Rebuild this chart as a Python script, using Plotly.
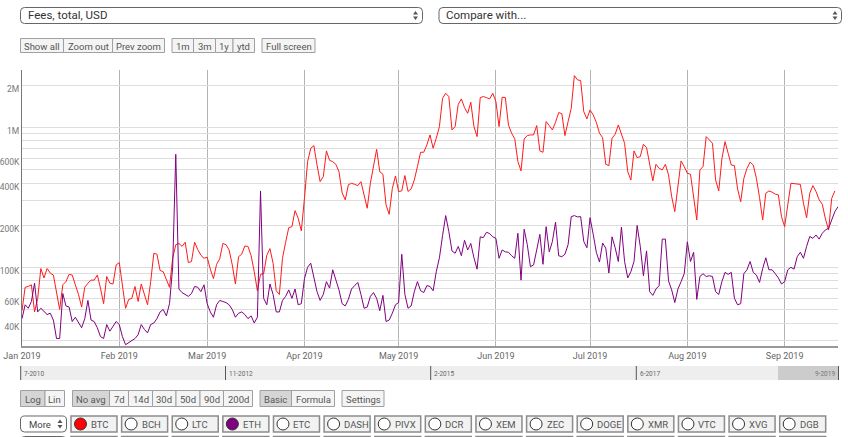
import plotly.graph_objects as go
import pandas as pd

# ---------------- data ----------------
start_date = "2019-01-01"
# daily total fees, thousands of USD
btc_fees_k = [
    49, 72, 73, 75, 48, 60, 98, 84, 98, 91, 88, 67, 50, 75, 79, 89, 88, 75, 64, 52,
    72, 77, 81, 81, 88, 71, 55, 86, 77, 76, 104, 108, 73, 51, 59, 60, 73, 57, 76, 64,
    54, 79, 126, 124, 95, 93, 81, 72, 116, 145, 148, 141, 151, 108, 110, 151, 134, 122, 116, 118,
    97, 83, 105, 115, 148, 145, 133, 104, 76, 119, 124, 142, 141, 121, 93, 68, 89, 90, 122, 136,
    107, 68, 64, 116, 151, 192, 195, 254, 224, 182, 311, 568, 708, 740, 538, 409, 444, 678, 581, 568,
    544, 482, 341, 303, 389, 398, 391, 383, 409, 320, 264, 398, 538, 696, 482, 462, 279, 239, 366, 449,
    348, 351, 452, 348, 363, 420, 524, 663, 663, 748, 882, 708, 835, 1011, 1611, 1749, 1657, 957, 1011, 1460,
    1594, 1382, 1259, 1508, 1011, 858, 1629, 1657, 1629, 1594, 1749, 1524, 1011, 1640, 1629, 1039, 906, 830, 569, 488,
    825, 872, 882, 882, 1028, 678, 663, 1098, 1028, 957, 1085, 1273, 1252, 872, 1098, 1367, 2338, 2180, 2156, 1294,
    1147, 1330, 1225, 1085, 906, 844, 544, 532, 835, 892, 1039, 906, 769, 482, 420, 678, 607, 617, 756, 716,
    532, 414, 544, 509, 496, 544, 457, 320, 250, 389, 575, 524, 469, 462, 311, 218, 496, 524, 858, 812,
    769, 421, 351, 594, 790, 652, 538, 532, 363, 294, 432, 509, 563, 538, 432, 315, 218, 338, 351, 344,
    333, 329, 230, 195, 282, 398, 396, 391, 391, 287, 226, 338, 383, 348, 303, 282, 221, 185, 311, 351,
]
eth_fees_k = [
    43, 54, 51, 57, 77, 48, 51, 48, 46, 47, 42, 31, 31, 65, 53, 52, 41, 44, 40, 37,
    43, 58, 42, 41, 37, 32, 31, 39, 35, 38, 41, 39, 32, 28, 29, 30, 31, 33, 39, 36,
    34, 39, 40, 43, 48, 50, 45, 55, 100, 641, 70, 66, 64, 62, 65, 73, 72, 67, 75, 55,
    48, 44, 54, 58, 57, 56, 54, 50, 44, 47, 48, 46, 43, 45, 40, 44, 351, 60, 54, 76,
    64, 48, 48, 58, 62, 69, 60, 70, 54, 55, 83, 100, 107, 83, 67, 58, 64, 79, 71, 96,
    81, 69, 55, 53, 59, 70, 74, 78, 64, 51, 52, 62, 66, 60, 49, 63, 41, 42, 47, 54,
    56, 124, 64, 51, 53, 67, 79, 68, 66, 74, 73, 68, 93, 117, 168, 234, 180, 131, 126, 141,
    121, 156, 133, 148, 117, 97, 165, 163, 178, 174, 165, 161, 116, 133, 129, 128, 121, 116, 175, 81,
    187, 145, 101, 104, 133, 172, 105, 195, 129, 153, 210, 121, 119, 124, 145, 230, 234, 229, 230, 153,
    138, 226, 172, 128, 109, 149, 137, 91, 165, 138, 110, 194, 110, 84, 93, 110, 199, 141, 87, 131,
    67, 63, 70, 74, 159, 159, 80, 69, 56, 70, 79, 90, 152, 110, 128, 59, 86, 90, 86, 87,
    86, 67, 64, 79, 92, 89, 92, 60, 54, 55, 90, 96, 110, 92, 88, 78, 98, 117, 96, 96,
    90, 84, 76, 79, 96, 100, 97, 119, 128, 116, 141, 166, 161, 170, 159, 175, 185, 190, 218, 250,
    271,
]
month_ticks = ["2019-01-01", "2019-02-01", "2019-03-01", "2019-04-01", "2019-05-01",
               "2019-06-01", "2019-07-01", "2019-08-01", "2019-09-01"]
month_labels = ["Jan 2019", "Feb 2019", "Mar 2019", "Apr 2019", "May 2019",
                "Jun 2019", "Jul 2019", "Aug 2019", "Sep 2019"]
ytick_vals = [30e3, 40e3, 50e3, 60e3, 70e3, 80e3, 90e3,
              100e3, 200e3, 300e3, 400e3, 500e3, 600e3, 700e3, 800e3, 900e3,
              1e6, 2e6]
ytick_text = ["", "40K", "", "60K", "", "", "",
              "100K", "200K", "", "400K", "", "600K", "", "", "",
              "1M", "2M"]
nav_labels = ["7-2010", "11-2012", "2-2015", "6-2017", "9-2019"]
coins = ["BTC", "BCH", "LTC", "ETH", "ETC", "DASH", "PIVX", "DCR",
         "XEM", "ZEC", "DOGE", "XMR", "VTC", "XVG", "DGB"]
coin_colors = {"BTC": "#ff0000", "ETH": "#800080"}

# ---------------- geometry helpers ----------------
FONT = "Roboto, sans-serif"
W, H = 848, 437
L, R, T, B = 22, 838, 70, 346


def px(x):
    return (x - L) / (R - L)


def py(y):
    return (B - y) / (B - T)


shapes, annotations = [], []


def rect(x0, y0, x1, y1, fill, line="#a0a0a0", lw=1):
    shapes.append(dict(type="rect", xref="paper", yref="paper", layer="above",
                       x0=px(x0), x1=px(x1), y0=py(y1), y1=py(y0),
                       fillcolor=fill, line=dict(color=line, width=lw)))


def vline(x, y0, y1, color="#555", lw=1):
    shapes.append(dict(type="line", xref="paper", yref="paper", layer="above",
                       x0=px(x), x1=px(x), y0=py(y1), y1=py(y0),
                       line=dict(color=color, width=lw)))


def text(x, y, s, size=9.5, color="#555", anchor="center"):
    annotations.append(dict(xref="paper", yref="paper", x=px(x), y=py(y), text=s,
                            showarrow=False, xanchor=anchor, yanchor="middle",
                            font=dict(family=FONT, size=size, color=color)))


def P(x, y):
    return f"{px(x):.5f},{py(y):.5f}"


def rounded(x0, y0, x1, y1, r=4, fill="white", line="#666", lw=1):
    path = (f"M {P(x0 + r, y0)} L {P(x1 - r, y0)} Q {P(x1, y0)} {P(x1, y0 + r)} "
            f"L {P(x1, y1 - r)} Q {P(x1, y1)} {P(x1 - r, y1)} L {P(x0 + r, y1)} "
            f"Q {P(x0, y1)} {P(x0, y1 - r)} L {P(x0, y0 + r)} Q {P(x0, y0)} {P(x0 + r, y0)} Z")
    shapes.append(dict(type="path", xref="paper", yref="paper", layer="above", path=path,
                       fillcolor=fill, line=dict(color=line, width=lw)))


def updown(cx, cy):
    for pts in ([(cx - 2.5, cy - 1), (cx + 2.5, cy - 1), (cx, cy - 4.5)],
                [(cx - 2.5, cy + 1), (cx + 2.5, cy + 1), (cx, cy + 4.5)]):
        path = "M " + " L ".join(P(a, b) for a, b in pts) + " Z"
        shapes.append(dict(type="path", xref="paper", yref="paper", layer="above",
                           path=path, fillcolor="#555", line=dict(width=0)))


def circle(cx, cy, r, fill):
    shapes.append(dict(type="circle", xref="paper", yref="paper", layer="above",
                       x0=px(cx - r), x1=px(cx + r), y0=py(cy + r), y1=py(cy - r),
                       fillcolor=fill, line=dict(color="#333", width=1)))


# ---------------- top selects ----------------
rounded(20.5, 7.5, 422.5, 23.5)
text(26, 15.5, "Fees, total, USD", size=11.5, color="#333", anchor="left")
updown(415.5, 15.5)
rounded(439, 7.5, 841.5, 23.5)
text(444, 15.5, "Compare with...", size=11.5, color="#333", anchor="left")
updown(835, 15.5)

# ---------------- button rows ----------------
BTN_FILL, BTN_ON = "#f4f4f4", "#d5d5d5"


def buttons(items, y0, y1):
    for label, x0, x1, on in items:
        rect(x0, y0, x1, y1, BTN_ON if on else BTN_FILL)
        text((x0 + x1) / 2, (y0 + y1) / 2 + 0.5, label, size=9.5, color="#555")


buttons([("Show all", 20.5, 63.5, False), ("Zoom out", 63.5, 112.5, False),
         ("Prev zoom", 112.5, 164.5, False)], 38.5, 52.5)
buttons([("1m", 172, 193.5, False), ("3m", 193.5, 215.5, False),
         ("1y", 215.5, 233, False), ("ytd", 233, 254.5, False)], 38.5, 52.5)
buttons([("Full screen", 262, 315, False)], 38.5, 52.5)

buttons([("Log", 20.5, 45, True), ("Lin", 45, 64.5, False)], 390.5, 406.5)
buttons([("No avg", 72.5, 109.5, True), ("7d", 109.5, 128.5, False),
         ("14d", 128.5, 152.5, False), ("30d", 152.5, 176, False),
         ("50d", 176, 200, False), ("90d", 200, 223.5, False),
         ("200d", 223.5, 252.5, False)], 390.5, 406.5)
buttons([("Basic", 260, 291.5, True), ("Formula", 291.5, 334.5, False)], 390.5, 406.5)
buttons([("Settings", 342, 384, False)], 390.5, 406.5)

# More select + coin buttons
rounded(20.5, 416, 66.5, 432)
text(27, 424, "More", size=9.5, color="#444", anchor="left")
updown(60, 424)
rounded(20.5, 436.5, 66.5, 452)
for i, c in enumerate(coins):
    x0 = 71 + i * 50.62
    rect(x0, 416, x0 + 46, 432, "#f2f2f2", line="#8c8c8c", lw=1.5)
    rect(x0, 436.5, x0 + 46, 452, "#f2f2f2", line="#8c8c8c", lw=1.5)
    circle(x0 + 9.5, 424, 6, coin_colors.get(c, "white"))
    text(x0 + 18, 424, c, size=9.5, color="#555", anchor="left")

# ---------------- navigator strip ----------------
rect(20.5, 366, 838, 380, "#eeeeee", line="#eeeeee", lw=0)
rect(778, 366, 838, 380, "#cccccc", line="#cccccc", lw=0)
nav_x = [20.7, 225.5, 430.7, 636.3]
for x, lab in zip(nav_x, nav_labels[:-1]):
    vline(x, 366, 380, color="#555", lw=1)
    text(x + 1.5, 373.5, lab, size=6.5, color="#666", anchor="left")
vline(838.5, 366, 380, color="#555", lw=1)
text(837, 373.5, nav_labels[-1], size=6.5, color="#777", anchor="right")

# ---------------- traces ----------------
eth_dates = pd.date_range(start_date, periods=len(eth_fees_k), freq="D")
btc_dates = pd.date_range(start_date, periods=len(btc_fees_k), freq="D")

fig = go.Figure()
fig.add_trace(go.Scatter(x=btc_dates, y=[v * 1000 for v in btc_fees_k], mode="lines",
                         name="BTC", line=dict(color="#ff1a1a", width=1), hoverinfo="skip"))
fig.add_trace(go.Scatter(x=eth_dates, y=[v * 1000 for v in eth_fees_k], mode="lines",
                         name="ETH", line=dict(color="#800080", width=1), hoverinfo="skip"))

fig.update_layout(
    width=W, height=H,
    margin=dict(l=L, r=W - R, t=T, b=H - B, autoexpand=False),
    paper_bgcolor="white", plot_bgcolor="white",
    showlegend=False,
    font=dict(family=FONT),
    shapes=shapes, annotations=annotations,
    xaxis=dict(type="date", range=["2019-01-01", "2019-09-18"],
               tickvals=month_ticks, ticktext=month_labels, ticks="",
               showgrid=True, gridcolor="#b4b4b4", gridwidth=1,
               showline=True, linecolor="#999999", linewidth=1.5,
               zeroline=False, tickfont=dict(size=9, color="#666"),
               fixedrange=True),
    yaxis=dict(type="log", range=[4.438, 6.409],
               tickvals=ytick_vals, ticktext=ytick_text, ticks="",
               showgrid=True, gridcolor="#dddddd", gridwidth=1,
               showline=True, linecolor="#777777", linewidth=1,
               zeroline=False, ticklabelshift=4,
               tickfont=dict(size=8.5, color="#777"), fixedrange=True),
)

fig.write_html("out.html", config={"displayModeBar": False})
